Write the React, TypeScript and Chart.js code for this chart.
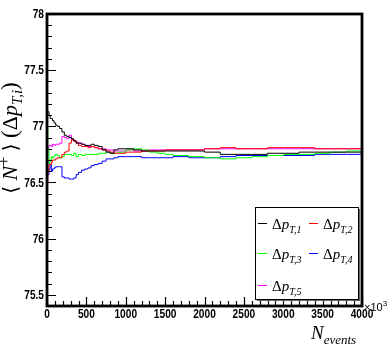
import React, { useEffect, useRef } from "react";
import { Chart, registerables } from "chart.js";

Chart.register(...registerables);

// N_events (x10^3)
const nEvents = [0, 10, 25, 40, 55, 70, 90, 110, 130, 160, 190, 220, 250, 280, 310, 340, 370, 400, 440, 480, 520, 560, 600, 650, 700, 750, 800, 850, 900, 1000, 1100, 1200, 1300, 1400, 1500, 1600, 1800, 2000, 2200, 2400, 2600, 2800, 3000, 3200, 3400, 3600, 3800, 4000];

const dpT1 = [77.15, 77.13, 77.13, 77.10, 77.07, 77.07, 77.05, 77.03, 77.01, 77.00, 76.98, 76.95, 76.92, 76.91, 76.90, 76.89, 76.87, 76.85, 76.85, 76.84, 76.83, 76.83, 76.84, 76.83, 76.82, 76.79, 76.77, 76.76, 76.79, 76.80, 76.80, 76.79, 76.78, 76.78, 76.78, 76.78, 76.78, 76.78, 76.77, 76.75, 76.75, 76.75, 76.76, 76.76, 76.77, 76.77, 76.77, 76.77];
const dpT2 = [76.35, 76.48, 76.60, 76.66, 76.66, 76.68, 76.70, 76.70, 76.71, 76.72, 76.72, 76.75, 76.77, 76.78, 76.85, 76.88, 76.87, 76.85, 76.83, 76.82, 76.82, 76.81, 76.82, 76.81, 76.80, 76.79, 76.78, 76.77, 76.76, 76.76, 76.77, 76.77, 76.78, 76.78, 76.78, 76.79, 76.79, 76.79, 76.80, 76.81, 76.80, 76.80, 76.81, 76.81, 76.81, 76.80, 76.80, 76.80];
const dpT3 = [77.01, 77.00, 76.80, 76.67, 76.70, 76.73, 76.72, 76.74, 76.75, 76.74, 76.72, 76.73, 76.75, 76.75, 76.75, 76.74, 76.76, 76.73, 76.75, 76.74, 76.75, 76.75, 76.75, 76.75, 76.76, 76.76, 76.77, 76.76, 76.76, 76.77, 76.79, 76.80, 76.79, 76.77, 76.76, 76.75, 76.74, 76.73, 76.72, 76.71, 76.72, 76.73, 76.74, 76.75, 76.75, 76.76, 76.77, 76.78];
const dpT4 = [76.80, 76.69, 76.57, 76.62, 76.66, 76.60, 76.62, 76.63, 76.64, 76.64, 76.64, 76.55, 76.54, 76.54, 76.53, 76.53, 76.54, 76.57, 76.59, 76.61, 76.62, 76.63, 76.65, 76.66, 76.67, 76.69, 76.71, 76.71, 76.72, 76.73, 76.73, 76.73, 76.72, 76.72, 76.72, 76.72, 76.73, 76.72, 76.72, 76.73, 76.74, 76.74, 76.74, 76.74, 76.74, 76.75, 76.75, 76.75];
const dpT5 = [77.01, 76.80, 76.81, 76.83, 76.83, 76.82, 76.84, 76.83, 76.84, 76.84, 76.85, 76.91, 76.90, 76.89, 76.92, 76.88, 76.87, 76.86, 76.85, 76.84, 76.83, 76.82, 76.82, 76.81, 76.80, 76.80, 76.79, 76.79, 76.78, 76.78, 76.79, 76.78, 76.78, 76.79, 76.79, 76.79, 76.79, 76.79, 76.80, 76.80, 76.80, 76.80, 76.80, 76.80, 76.80, 76.80, 76.80, 76.80];

const seriesValues = [dpT1, dpT2, dpT3, dpT4, dpT5];
const seriesSubscripts = ["T,1", "T,2", "T,3", "T,4", "T,5"];
const seriesColors = ["#000000", "#ff0000", "#00ff00", "#0000ff", "#ff00ff"];

const xTickValues = [0, 500, 1000, 1500, 2000, 2500, 3000, 3500, 4000];
const yTickValues = [75.5, 76, 76.5, 77, 77.5, 78];
const xMin = 0, xMax = 4000, yMin = 75.4, yMax = 78;

type Seg = { t: string; font: string; dy?: number };

function drawSegs(ctx: CanvasRenderingContext2D, segs: Seg[], x: number, y: number) {
  let cx = x;
  for (const s of segs) {
    ctx.font = s.font;
    ctx.fillText(s.t, cx, y + (s.dy || 0));
    cx += ctx.measureText(s.t).width;
  }
  return cx - x;
}
function segsWidth(ctx: CanvasRenderingContext2D, segs: Seg[]) {
  let w = 0;
  for (const s of segs) {
    ctx.font = s.font;
    w += ctx.measureText(s.t).width;
  }
  return w;
}

const SERIF = "'Liberation Serif', 'DejaVu Serif', serif";
const TICKFONT = "bold 13px 'Liberation Sans', Arial, sans-serif";
const NARROW = 0.78;

function narrowText(ctx: CanvasRenderingContext2D, text: string, x: number, y: number, align: "left" | "center" | "right") {
  ctx.font = TICKFONT;
  const w = ctx.measureText(text).width * NARROW;
  let x0 = x;
  if (align === "center") x0 = x - w / 2;
  else if (align === "right") x0 = x - w;
  ctx.save();
  ctx.translate(x0, y);
  ctx.scale(NARROW, 1);
  ctx.textAlign = "left";
  ctx.fillText(text, 0, 0);
  ctx.restore();
}

const decorPlugin = {
  id: "decor",
  afterDraw(chart: any) {
    const ctx: CanvasRenderingContext2D = chart.ctx;
    const { left, right, top, bottom } = chart.chartArea;
    const xs = chart.scales.x;
    const ys = chart.scales.y;
    ctx.save();
    ctx.strokeStyle = "#000";
    ctx.fillStyle = "#000";
    // ticks
    ctx.lineWidth = 1.2;
    ctx.beginPath();
    for (let v = xMin; v <= xMax + 1e-6; v += 100) {
      const px = Math.round(xs.getPixelForValue(v)) + 0.5;
      const major = Math.abs(v % 500) < 1e-6;
      ctx.moveTo(px, bottom);
      ctx.lineTo(px, bottom - (major ? 9 : 5));
    }
    for (let k = 0; k <= 26; k++) {
      const v = yMin + k * 0.1;
      const py = Math.round(ys.getPixelForValue(v)) + 0.5;
      const major = Math.abs((v * 2) - Math.round(v * 2)) < 1e-6;
      ctx.moveTo(left, py);
      ctx.lineTo(left + (major ? 9 : 5), py);
    }
    ctx.stroke();
    // frame
    ctx.lineWidth = 2.8;
    ctx.strokeRect(left, top, right - left, bottom - top);

    // tick labels (positions from the chart's scales)
    ctx.textBaseline = "top";
    xs.ticks.forEach((t: any) => {
      narrowText(ctx, String(t.value), xs.getPixelForValue(t.value), bottom + 2, "center");
    });
    ctx.textBaseline = "middle";
    ys.ticks.forEach((t: any) => {
      narrowText(ctx, String(t.value), left - 3, ys.getPixelForValue(t.value) + 0.5, "right");
    });

    // x10^3
    ctx.textBaseline = "alphabetic";
    ctx.textAlign = "left";
    drawSegs(ctx, [
      { t: "×10", font: "11px 'Liberation Sans', Arial, sans-serif" },
      { t: "3", font: "8px 'Liberation Sans', Arial, sans-serif", dy: -5 },
    ], right + 2, bottom + 5);

    // x title
    drawSegs(ctx, [
      { t: "N", font: "italic 19px " + SERIF },
      { t: "events", font: "italic 13px " + SERIF, dy: 5 },
    ], 311, 339);

    // y title
    const ySegs: Seg[] = [
      { t: "⟨", font: "20px 'DejaVu Serif', serif" },
      { t: " ", font: "22px " + SERIF },
      { t: "N", font: "italic 22px " + SERIF },
      { t: "+", font: "16px " + SERIF, dy: -8 },
      { t: " ", font: "22px " + SERIF },
      { t: "⟩", font: "20px 'DejaVu Serif', serif" },
      { t: " ", font: "22px " + SERIF },
      { t: "(", font: "23px " + SERIF },
      { t: "Δ", font: "22px " + SERIF },
      { t: "p", font: "italic 22px " + SERIF },
      { t: "T,i", font: "italic 15px " + SERIF, dy: 5 },
      { t: ")", font: "23px " + SERIF },
    ];
    const w = segsWidth(ctx, ySegs);
    ctx.save();
    ctx.translate(0, 138);
    ctx.rotate(-Math.PI / 2);
    drawSegs(ctx, ySegs, -w / 2, 17);
    ctx.restore();

    // legend
    const lx = 255, ly = 207, lw = 103, lh = 92;
    ctx.fillStyle = "#666";
    ctx.fillRect(lx + 2, ly + 2, lw, lh);
    ctx.fillStyle = "#fff";
    ctx.fillRect(lx, ly, lw, lh);
    ctx.lineWidth = 1;
    ctx.strokeStyle = "#000";
    ctx.strokeRect(lx + 0.5, ly + 0.5, lw, lh);
    const colX = [258, 309];
    const rowY = [223, 253, 285];
    chart.data.datasets.forEach((ds: any, i: number) => {
      const c = i % 2, r = Math.floor(i / 2);
      const sx = colX[c], sy = rowY[r];
      ctx.strokeStyle = ds.borderColor;
      ctx.lineWidth = 1;
      ctx.beginPath();
      ctx.moveTo(sx, sy + 0.5);
      ctx.lineTo(sx + 9, sy + 0.5);
      ctx.stroke();
      ctx.fillStyle = "#000";
      drawSegs(ctx, [
        { t: "Δ", font: "15px " + SERIF },
        { t: "p", font: "italic 15px " + SERIF },
        { t: seriesSubscripts[i], font: "italic 10px " + SERIF, dy: 4 },
      ], sx + 14, sy + 6);
    });
    ctx.restore();
  },
};

export default function App() {
  const ref = useRef<HTMLCanvasElement | null>(null);
  useEffect(() => {
    if (!ref.current) return;
    const chart = new Chart(ref.current, {
      type: "line",
      data: {
        datasets: seriesValues.map((vals, i) => ({
          label: "Δp" + seriesSubscripts[i],
          data: nEvents.map((x, j) => ({ x, y: vals[j] })),
          borderColor: seriesColors[i],
          backgroundColor: seriesColors[i],
          borderWidth: 1,
          pointRadius: 0,
          stepped: "after" as const,
          fill: false,
        })),
      },
      options: {
        animation: false,
        responsive: false,
        devicePixelRatio: 1,
        layout: { padding: { top: 14, right: 30, left: 0, bottom: 0 } },
        plugins: { legend: { display: false }, tooltip: { enabled: false } },
        scales: {
          x: {
            type: "linear",
            min: xMin,
            max: xMax,
            grid: { display: false, drawTicks: false },
            border: { display: false },
            afterBuildTicks: (s: any) => { s.ticks = xTickValues.map((v) => ({ value: v })); },
            afterFit: (s: any) => { s.height = 48; },
            ticks: { display: false, autoSkip: false },
          },
          y: {
            type: "linear",
            min: yMin,
            max: yMax,
            grid: { display: false, drawTicks: false },
            border: { display: false },
            afterBuildTicks: (s: any) => { s.ticks = yTickValues.map((v) => ({ value: v })); },
            afterFit: (s: any) => { s.width = 47; },
            ticks: { display: false, autoSkip: false },
          },
        },
      },
      plugins: [decorPlugin],
    } as any);
    return () => chart.destroy();
  }, []);
  return (
    <div style={{ position: "fixed", left: 0, top: 0, width: 392, height: 354, background: "#fff" }}>
      <canvas ref={ref} width={392} height={354} style={{ width: 392, height: 354, display: "block" }} />
    </div>
  );
}
